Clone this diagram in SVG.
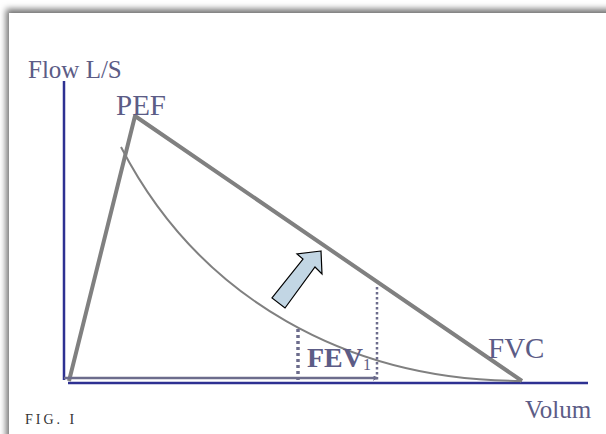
<svg xmlns="http://www.w3.org/2000/svg" width="606" height="434" viewBox="0 0 606 434">
<defs>
<filter id="sh" x="-5%" y="-5%" width="110%" height="110%">
<feDropShadow dx="-3" dy="-4" stdDeviation="3" flood-color="#000" flood-opacity="0.55"/>
</filter>
<marker id="ah" viewBox="0 0 10 10" refX="9" refY="5" markerWidth="5" markerHeight="5" orient="auto" markerUnits="userSpaceOnUse">
<path d="M0,0 L10,5 L0,10" fill="none" stroke="#6c6c8c" stroke-width="2"/>
</marker>
<style>
.lbl{fill:#5c5c86}
.axis{stroke:#2e3192;stroke-width:2.5;fill:none}
.thick{stroke:#808080;stroke-width:4;fill:none;stroke-linejoin:round}
</style>
</defs>
<rect width="606" height="434" fill="#fff"/>
<rect x="9" y="13" width="620" height="440" fill="#fff" filter="url(#sh)"/>
<g id="axes">
<line class="axis" x1="64" y1="81" x2="64" y2="380"/>
<line class="axis" x1="68" y1="383" x2="588" y2="383"/>
</g>
<g id="connectors">
<polyline class="thick" points="69,381 135,116 522,381"/>
<path d="M121,147 C200,300 350,381 522,381" fill="none" stroke="#808080" stroke-width="2"/>
<line x1="64" y1="378" x2="377" y2="378" stroke="#6c6c8c" stroke-width="2.5" marker-end="url(#ah)"/>
<line x1="298" y1="329" x2="298" y2="381" stroke="#6c6c8c" stroke-width="3.5" stroke-dasharray="3,3"/>
<line x1="377" y1="287" x2="377" y2="381" stroke="#6c6c8c" stroke-width="2.5" stroke-dasharray="2.5,2.5"/>
</g>
<g id="bigarrow">
<polygon points="321,251 297,254 303,259 272,298 285,308 315,267 322,274" fill="#c2d6e4" stroke="#000" stroke-width="1.2" stroke-linejoin="miter"/>
</g>
<g id="labels" font-family="'Liberation Serif', 'DejaVu Serif', serif">
<text class="lbl" x="28" y="78" font-size="25">Flow L/S</text>
<text class="lbl" x="116" y="115" font-size="29">PEF</text>
<text class="lbl" x="488" y="358" font-size="29">FVC</text>
<text class="lbl" x="525" y="418" font-size="25">Volum</text>
<text class="lbl" x="307" y="367" font-size="28" font-weight="bold">FEV<tspan font-size="16" font-weight="normal" dy="3">1</tspan></text>
<text x="25" y="424" font-size="14" letter-spacing="3" fill="#333">FIG. I</text>
</g>
</svg>
